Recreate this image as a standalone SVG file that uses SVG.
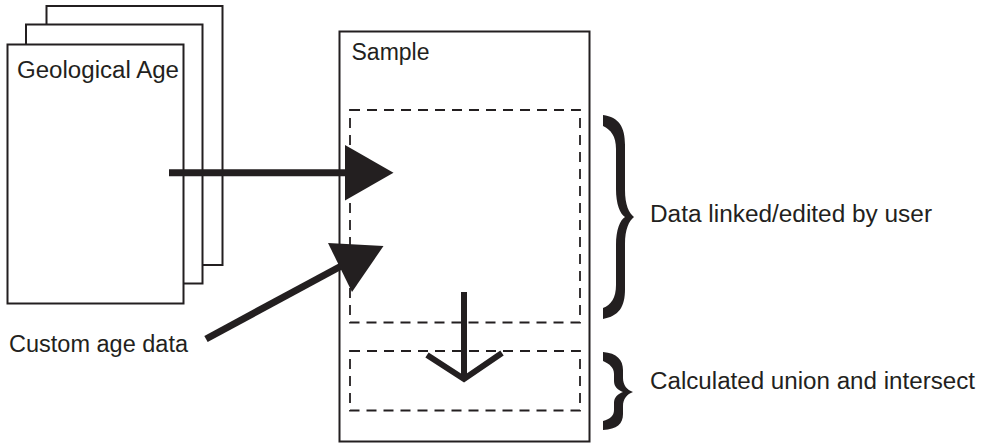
<svg xmlns="http://www.w3.org/2000/svg" width="988" height="444" viewBox="0 0 988 444">
<style>
.page{fill:#fff;stroke:#231f20;stroke-width:2}
.lbl{font-family:"Liberation Sans",Arial,sans-serif;font-size:23px;fill:#231f20}
.dash{fill:none;stroke:#231f20;stroke-width:1.8;stroke-dasharray:10 7}
.thick{stroke:#231f20;stroke-width:7;fill:none}
.head{fill:#231f20}
.brace{fill:#231f20}
</style>
<rect width="988" height="444" fill="#fff"/>
<g id="geological-age">
<rect class="page" x="46.5" y="6" width="176" height="259"/>
<rect class="page" x="26" y="24.5" width="176.5" height="259"/>
<rect class="page" x="7.5" y="44.5" width="176" height="259"/>
<text class="lbl" x="17" y="78" textLength="162" lengthAdjust="spacingAndGlyphs">Geological Age</text>
</g>
<g id="sample">
<rect class="page" x="339.5" y="31.5" width="250" height="410"/>
<text class="lbl" x="351.5" y="60" textLength="78" lengthAdjust="spacingAndGlyphs">Sample</text>
</g>
<g id="user-data">
<rect class="dash" x="350" y="110" width="230" height="212.5"/>
</g>
<g id="calculated">
<rect class="dash" x="350" y="351" width="230" height="59.5"/>
</g>
<g id="custom-age-data">
<text class="lbl" x="9" y="351.5" textLength="179" lengthAdjust="spacingAndGlyphs">Custom age data</text>
</g>
<g id="connectors">
<line class="thick" x1="169" y1="172.7" x2="347" y2="172.7"/>
<polygon class="head" points="345,145 393.5,172.7 345,200.5"/>
<line class="thick" x1="206" y1="339" x2="345" y2="264"/>
<polygon class="head" points="328,243 383.5,246 352,292"/>
<line x1="464" y1="292" x2="464" y2="378" stroke="#231f20" stroke-width="6"/>
<polyline points="427,355 464,379 502,353" fill="none" stroke="#231f20" stroke-width="6"/>
</g>
<g id="brace-user">
<path class="brace" d="M603 115 C619 117 625 127 625 145 L625 190 C625 205 629 213 634 217 C629 221 625 229 625 244 L625 289 C625 307 619 316 603 319 L603 308 C611 305 616 298 616 285 L616 245 C616 230 620 220 625 217 C620 214 616 204 616 189 L616 149 C616 136 611 130 603 126 Z"/>
<text class="lbl" x="650" y="221.5" textLength="282" lengthAdjust="spacingAndGlyphs">Data linked/edited by user</text>
</g>
<g id="brace-calc">
<path class="brace" d="M603 352 C617 353 623 360 623 370 L623 378 C623 385 627 390 633 392 C627 394 623 399 623 406 L623 414 C623 424 617 429 603 430 L603 421 C610 419 614 416 614 410 L614 403 C614 397 618 394 623 392 C618 390 614 387 614 381 L614 374 C614 368 610 364 603 361 Z"/>
<text class="lbl" x="650" y="388.5" textLength="325" lengthAdjust="spacingAndGlyphs">Calculated union and intersect</text>
</g>
</svg>
